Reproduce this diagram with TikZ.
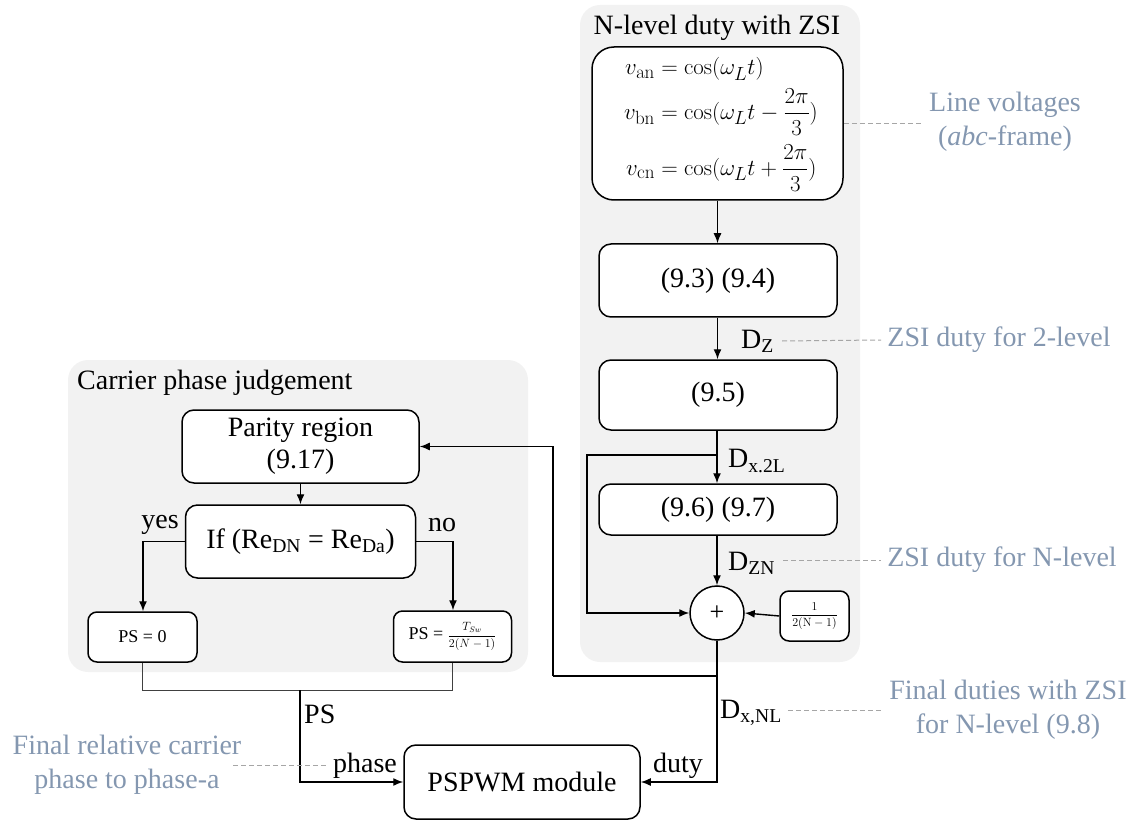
\documentclass[tikz,border=0pt]{standalone}
\usepackage{amsmath}
\usepackage[no-math]{fontspec}
\setmainfont{Liberation Serif}
\usetikzlibrary{arrows.meta}
\definecolor{anno}{HTML}{8497B0}
\definecolor{panelc}{HTML}{F2F2F2}
\definecolor{dashc}{HTML}{A6A6A6}
\begin{document}
\begin{tikzpicture}[x=1pt,y=-1pt,
  box/.style={draw,line width=1.5pt,rounded corners=12pt,align=center,inner sep=0pt,fill=white,
    font=\fontsize{28}{32}\selectfont},
  smallbox/.style={box,rounded corners=9pt,font=\fontsize{18}{20}\selectfont},
  panelbox/.style={fill=panelc,rounded corners=20pt,draw=none},
  ptitle/.style={font=\fontsize{28}{32}\selectfont,inner sep=0pt},
  lbl/.style={font=\fontsize{28}{32}\selectfont,inner sep=0pt},
  annot/.style={font=\fontsize{28}{34}\selectfont,text=anno,align=center,inner sep=6pt},
  arr/.style={line width=1.4pt,-{Latex[length=10pt,width=8pt]}},
  ln/.style={line width=1.4pt},
  thin/.style={line width=1pt,draw=black!75},
  dsh/.style={line width=1pt,draw=dashc,dash pattern=on 5pt off 3pt}
]
\useasboundingbox (0,0) rectangle (1136,821);
% panels
\fill[panelbox] (580,5) rectangle (860,662);
\fill[panelbox] (68,360) rectangle (528,672);
\node[ptitle] (t1) at (717,28) {N-level duty with ZSI};
\node[ptitle,anchor=west] (t2) at (77,383) {Carrier phase judgement};

% right column
\node[box,rounded corners=22pt,minimum width=251pt,minimum height=153pt] (eq) at (717.5,123.5) {};
\node[inner sep=0pt] (eqt) at (721,124)
 {\scalebox{0.92}{\fontsize{24.88}{28}\selectfont$\begin{aligned}
 v_{\mathrm{an}} &= \cos(\omega_L t)\\[3pt]
 v_{\mathrm{bn}} &= \cos(\omega_L t-\dfrac{2\pi}{3})\\[7pt]
 v_{\mathrm{cn}} &= \cos(\omega_L t+\dfrac{2\pi}{3})
 \end{aligned}$}};
\node[box,minimum width=238pt,minimum height=73pt] (b2) at (718,280.5) {(9.3) (9.4)};
\node[box,minimum width=238pt,minimum height=70pt] (b3) at (718,395) {(9.5)};
\node[box,minimum width=238pt,minimum height=51pt] (b4) at (718,509.5) {(9.6) (9.7)};
\node[draw,circle,line width=1.5pt,minimum size=54pt,inner sep=0pt,fill=white,
  font=\fontsize{26}{30}\selectfont] (sum) at (717,613) {+};
\node[smallbox,minimum width=69pt,minimum height=50pt] (fr) at (814.5,616)
 {\fontsize{12}{14}\selectfont$\dfrac{1}{2(\mathrm{N}-1)}$};

% left column
\node[box,minimum width=237pt,minimum height=73pt] (par) at (300.5,446.5) {Parity region\\(9.17)};
\node[box,minimum width=230pt,minimum height=73pt] (if) at (300.5,541.5)
 {If (Re\textsubscript{DN} = Re\textsubscript{Da})};
\node[smallbox,minimum width=109pt,minimum height=50pt] (ps0) at (142.5,637) {PS = 0};
\node[smallbox,minimum width=118pt,minimum height=51pt] (pst) at (452.5,636.5)
 {PS = {\fontsize{12}{14}\selectfont$\dfrac{T_{Sw}}{2(N-1)}$}};
\node[box,minimum width=236pt,minimum height=74pt] (pw) at (522,782) {PSPWM module};

% labels
\node[lbl,anchor=west] (dz) at (741,341) {D\textsubscript{Z}};
\node[lbl,anchor=west] (dx2) at (728,461) {D\textsubscript{x.2L}};
\node[lbl,anchor=west] (dzn) at (728,563) {D\textsubscript{ZN}};
\node[lbl,anchor=west] (dxn) at (720,713) {D\textsubscript{x,NL}};
\node[lbl,anchor=west] (pslbl) at (304,714) {PS};
\node[lbl] (phl) at (365,766) {phase};
\node[lbl] (dtl) at (678,766) {duty};
\node[lbl] (yes) at (160,525) {yes};
\node[lbl] (no) at (442,525) {no};

% annotations
\node[annot] (a1) at (1005,122) {Line voltages\\(\textit{abc}-frame)};
\node[annot] (a2) at (999,340) {ZSI duty for 2-level};
\node[annot] (a3) at (1002,560) {ZSI duty for N-level};
\node[annot] (a4) at (1008,710) {Final duties with ZSI\\for N-level (9.8)};
\node[annot] (a5) at (127,765) {Final relative carrier\\phase to phase-a};

% connectors
\coordinate (br) at (717,455);
\coordinate (brl) at (587,455);
\coordinate (fbc) at (717,676);
\coordinate (fbl) at (553,676);
\coordinate (psj) at (300,690);
\coordinate (yc) at (143,541.5);
\coordinate (nc) at (453,541.5);

\draw[arr] (eq.south) -- (b2.north -| eq.south);
\draw[arr] (b2.south -| eq.south) -- (b3.north -| eq.south);
\draw[arr] (b3.south -| sum) -- (b4.north -| sum);
\draw[arr] (b4.south -| sum) -- (sum.north);
\draw[arr] (br) -- (brl) |- (sum.west);
\draw[arr] (fr.west) -- (sum.east);
\draw[ln] (sum.south) -- (fbc) -- (fbl);
\draw[arr] (fbl) |- (par.east);
\draw[arr] (sum.south) |- (pw.east);

\draw[arr] (par.south) -- (if.north);
\draw[arr] (if.west) -- (yc) -- (yc |- ps0.north);
\draw[arr] (if.east) -- (nc) -- (nc |- pst.north);
\draw[thin] (ps0.south) -- (ps0.south |- psj) -- (pst.south |- psj) -- (pst.south);
\draw[arr] (psj) |- (pw.west);

% dashed leaders
\draw[dsh] (eq.east) -- (a1.west |- eq.east);
\draw[dsh] ([xshift=8pt]dz.east) -- (a2.west);
\draw[dsh] ([xshift=8pt]dzn.east |- a3.west) -- (a3.west);
\draw[dsh] ([xshift=6pt]dxn.east |- a4.west) -- (a4.west);
\draw[dsh] ([xshift=-14pt]a5.east) -- ([xshift=-6pt]phl.west |- a5.east);
\end{tikzpicture}
\end{document}
